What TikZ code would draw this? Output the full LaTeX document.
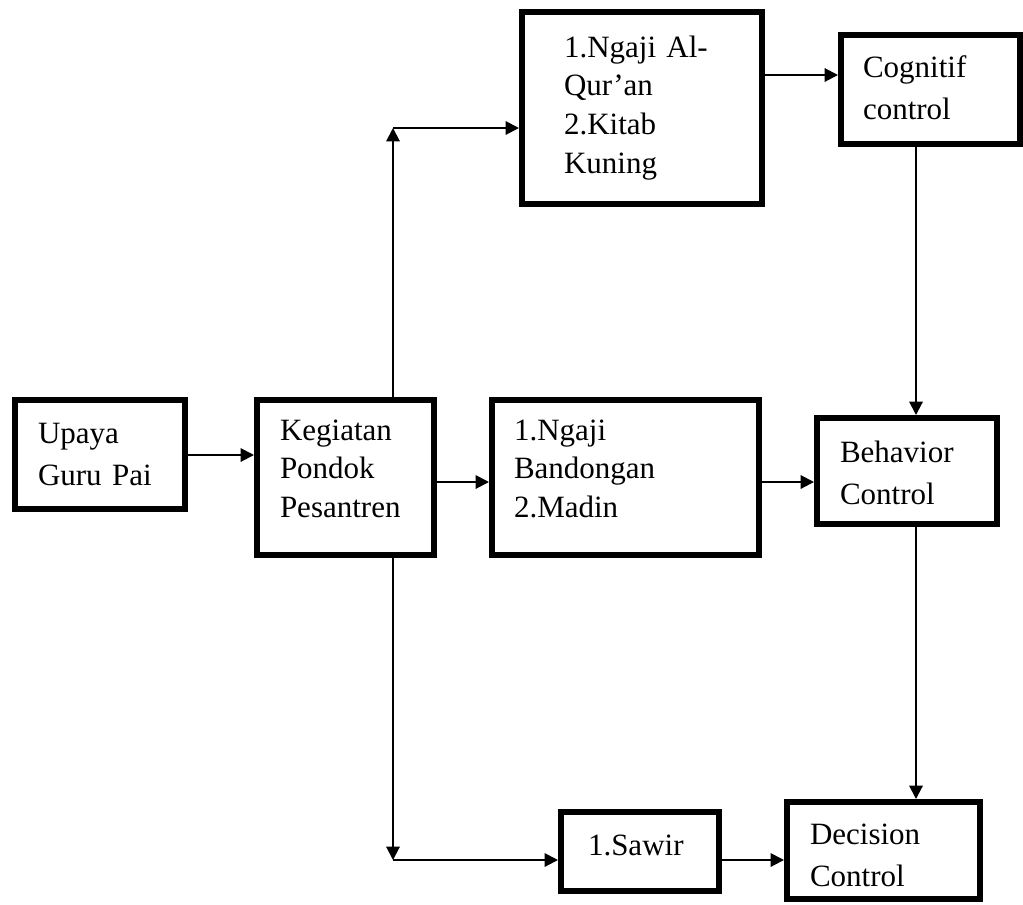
\documentclass[tikz,border=0pt]{standalone}
\usepackage{fontspec}
\setmainfont{Liberation Serif}
\usetikzlibrary{arrows.meta}
\begin{document}
\begin{tikzpicture}[x=0.75pt,y=-0.75pt,
  box/.style={draw, line width=4.5pt, anchor=north west, inner ysep=0pt, align=left,
    font=\fontsize{23.25}{29}\selectfont},
  twoline/.style={font=\fontsize{23.25}{31.5}\selectfont},
  arr/.style={line width=1.5pt, -{Triangle[length=10pt,width=10pt]}}]
\useasboundingbox[fill=white] (0,0) rectangle (1023,904);

\node[box, twoline, inner xsep=17.25pt, text width=93pt, text height=32.25pt, text depth=49.5pt]
  (upaya) at (12,397) {Upaya\\Guru Pai};
\node[box, inner xsep=17.25pt, text width=98.25pt, text height=30pt, text depth=86.25pt]
  (keg) at (254,397) {Kegiatan\\Pondok\\Pesantren};
\node[box, inner xsep=31.5pt, text width=117pt, text height=33.75pt, text depth=110.25pt]
  (top) at (519,9) {1.Ngaji Al-\\Qur’an\\2.Kitab\\Kuning};
\node[box, twoline, inner xsep=16.5pt, text width=101.25pt, text height=31.5pt, text depth=50.25pt]
  (cog) at (838,32) {Cognitif\\control};
\node[box, inner xsep=16.5pt, text width=167.25pt, text height=30pt, text depth=86.25pt]
  (band) at (489,397) {1.Ngaji\\Bandongan\\2.Madin};
\node[box, twoline, inner xsep=17.25pt, text width=100.5pt, text height=33pt, text depth=46.5pt]
  (beh) at (814,415) {Behavior\\Control};
\node[box, inner xsep=20.25pt, text width=78pt, text height=32.25pt, text depth=27pt]
  (saw) at (558,809) {1.Sawir};
\node[box, twoline, inner xsep=17.25pt, text width=110.25pt, text height=31.5pt, text depth=41.25pt]
  (dec) at (784,799) {Decision\\Control};

\coordinate (upC) at (393,128);
\coordinate (dnC) at (393,860);
\coordinate (y75) at (0,75);
\coordinate (y455) at (0,455);
\coordinate (y482) at (0,482);
\coordinate (x916) at (916,0);

\draw[arr] (upaya.east |- y455) -- (keg.west |- y455);
\draw[arr] (keg.east |- y482) -- (band.west |- y482);
\draw[arr] (band.east |- y482) -- (beh.west |- y482);
\draw[arr] (keg.north -| upC) -- (upC);
\draw[arr] (upC) -- (upC -| top.west);
\draw[arr] (keg.south -| dnC) -- (dnC);
\draw[arr] (dnC) -- (dnC -| saw.west);
\draw[arr] (top.east |- y75) -- (cog.west |- y75);
\draw[arr] (cog.south -| x916) -- (beh.north -| x916);
\draw[arr] (beh.south -| x916) -- (dec.north -| x916);
\draw[arr] (saw.east |- dnC) -- (dec.west |- dnC);
\end{tikzpicture}
\end{document}
